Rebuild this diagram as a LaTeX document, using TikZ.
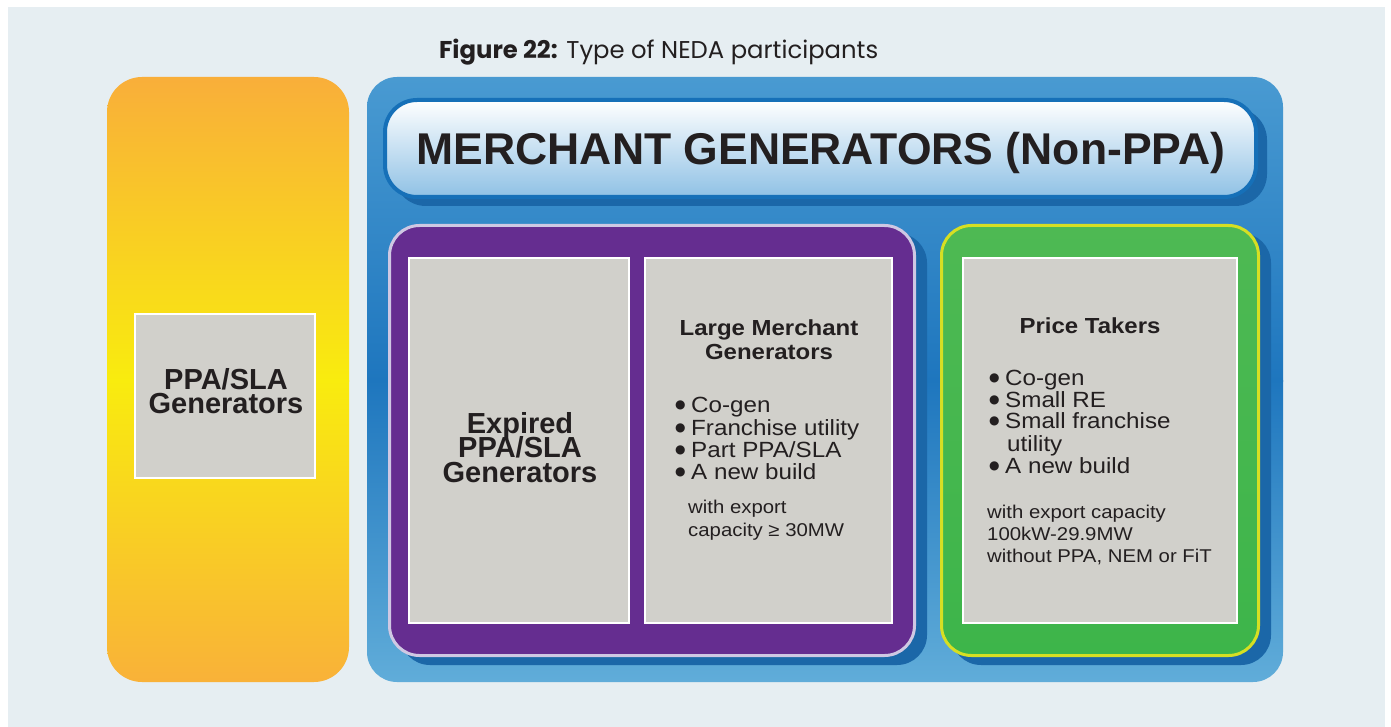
\documentclass[tikz,border=0pt]{standalone}
\usepackage{fontspec}
\setmainfont{Liberation Sans}
\newfontfamily\widefont[FakeStretch=1.1]{Liberation Sans}
\newfontfamily\titlefont{Poppins}
\newfontfamily\dotfont{DejaVu Sans}
\newcommand\mybullet[1]{\makebox[#1][l]{\raisebox{4pt}{\dotfont\fontsize{12}{12}\selectfont ●}}}
\definecolor{bgc}{HTML}{E6EEF2}
\definecolor{ink}{HTML}{231F20}
\definecolor{greyfill}{HTML}{D1D0CB}
\definecolor{ytop}{HTML}{F9AD3B}
\definecolor{ymid}{HTML}{F9EC0E}
\definecolor{ybot}{HTML}{F9B03A}
\definecolor{btop}{HTML}{4A9BD2}
\definecolor{bmid}{HTML}{1E76BE}
\definecolor{bbot}{HTML}{62AEDA}
\definecolor{shadowblue}{HTML}{1B67A8}
\definecolor{hdrline}{HTML}{1670B8}
\definecolor{hdrbot}{HTML}{8FC1E5}
\definecolor{purplefill}{HTML}{652D90}
\definecolor{lavender}{HTML}{CFC8E3}
\definecolor{gtop}{HTML}{4EB953}
\definecolor{gbot}{HTML}{3DB54A}
\definecolor{gline}{HTML}{D6DF23}
\tikzset{
  greybox/.style={fill=greyfill, draw=white, line width=2pt},
  shadowbox/.style={fill=shadowblue, rounded corners=30pt},
  txt/.style={inner sep=0pt, text=ink},
  bighead/.style={txt, anchor=north, align=center,
    font={\bfseries\fontsize{29}{24.5}\selectfont\lineskiplimit=-100pt}},
  subhead/.style={txt, anchor=base, font=\widefont\bfseries\fontsize{21.8}{24}\selectfont},
  bullettext/.style={txt, anchor=base west, font=\widefont\fontsize{22}{24}\selectfont},
  smalltext/.style={txt, anchor=base west, font=\widefont\fontsize{18.5}{20}\selectfont}
}
\begin{document}
\begin{tikzpicture}[x=1pt,y=-1pt]
\useasboundingbox (0,0) rectangle (1391,727);
\fill[white] (0,0) rectangle (1391,727);
\fill[bgc] (8,7) rectangle (1385,727);

% title
\node[txt, anchor=base west, font=\titlefont\fontsize{24.3}{28}\selectfont] (title) at (439,59)
  {{\bfseries Figure 22:} Type of NEDA participants};

% yellow PPA/SLA column
\begin{scope}
  \clip[rounded corners=35pt] (107,77) rectangle (349,682);
  \shade[top color=ytop, bottom color=ymid] (100,70) rectangle (360,381);
  \shade[top color=ymid, bottom color=ybot] (100,380) rectangle (360,690);
\end{scope}
\draw[greybox] (135,314) rectangle (315,478);
\node[bighead] (ppa) at (226,368) {PPA/SLA\\Generators};

% blue merchant box
\begin{scope}
  \clip[rounded corners=30pt] (367,77) rectangle (1283,682);
  \shade[top color=btop, bottom color=bmid] (360,70) rectangle (1290,381);
  \shade[top color=bmid, bottom color=bbot] (360,380) rectangle (1290,690);
\end{scope}

% header
\fill[shadowbox, rounded corners=32pt] (394,108) rectangle (1267,206);
\shade[top color=white, bottom color=hdrbot, rounded corners=32pt]
  (385,100) rectangle (1256,197);
\draw[hdrline, line width=4pt, rounded corners=32pt] (385,100) rectangle (1256,197);
\node[txt, anchor=base, font=\bfseries\fontsize{44.5}{50}\selectfont] (hdr) at (821,165)
  {MERCHANT GENERATORS (Non-PPA)};

% purple box
\fill[shadowbox] (400,233) rectangle (927,665);
\draw[fill=purplefill, draw=lavender, line width=3pt, rounded corners=30pt]
  (389.5,225.5) rectangle (914.5,655.5);
\draw[greybox] (409,258) rectangle (629,623);
\draw[greybox] (645,258) rectangle (892,623);

\node[bighead] (exp) at (520,412) {Expired\\PPA/SLA\\Generators};

\node[subhead] (lm1) at (769,335) {Large Merchant};
\node[subhead] (lm2) at (769,359) {Generators};
\node[bullettext] (lmt1) at (675,412) {\mybullet{16pt}Co-gen};
\node[bullettext] (lmt2) at (675,435) {\mybullet{16pt}Franchise utility};
\node[bullettext] (lmt3) at (675,457) {\mybullet{16pt}Part PPA/SLA};
\node[bullettext] (lmt4) at (675,479) {\mybullet{16pt}A new build};
\node[smalltext] (lms1) at (688,513) {with export};
\node[smalltext] (lms2) at (688,536) {capacity ≥ 30MW};

% green box
\fill[shadowbox] (951,233) rectangle (1271,665);
\shade[top color=gtop, bottom color=gbot, rounded corners=30pt]
  (941.5,225.5) rectangle (1258.5,655.5);
\draw[gline, line width=3pt, rounded corners=30pt]
  (941.5,225.5) rectangle (1258.5,655.5);
\draw[greybox] (963,258) rectangle (1237,623);

\node[subhead] (pt0) at (1090,333) {Price Takers};
\node[bullettext] (ptt1) at (989,385) {\mybullet{16pt}Co-gen};
\node[bullettext] (ptt2) at (989,407) {\mybullet{16pt}Small RE};
\node[bullettext] (ptt3) at (989,428) {\mybullet{16pt}Small franchise};
\node[bullettext] (ptt3b) at (1007,451) {utility};
\node[bullettext] (ptt4) at (989,473) {\mybullet{16pt}A new build};
\node[smalltext] (pts1) at (987,518) {with export capacity};
\node[smalltext] (pts2) at (987,540) {100kW-29.9MW};
\node[smalltext] (pts3) at (987,562) {without PPA, NEM or FiT};
\end{tikzpicture}
\end{document}
